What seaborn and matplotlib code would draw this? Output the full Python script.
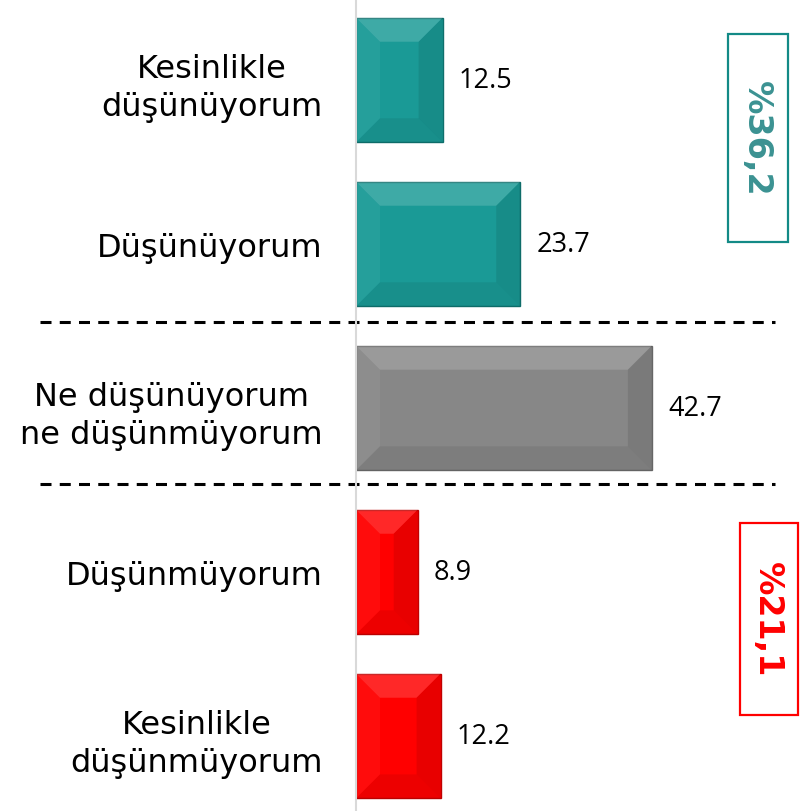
import matplotlib
matplotlib.use("Agg")
import matplotlib.pyplot as plt
import matplotlib.transforms as mtransforms
from matplotlib.patches import Polygon, Rectangle
import seaborn as sns

categories = ["Kesinlikle\ndüşünüyorum", "Düşünüyorum",
              "Ne düşünüyorum\nne düşünmüyorum", "Düşünmüyorum",
              "Kesinlikle\ndüşünmüyorum"]
values = [12.5, 23.7, 42.7, 8.9, 12.2]
bar_colors = ["#1a9a96", "#1a9a96", "#878787", "#ff0000", "#ff0000"]
edge_colors = ["#0f6f6c", "#0f6f6c", "#666666", "#c00000", "#c00000"]
summary_labels = ["%36,2", "%21,1"]
summary_colors = ["#3b9292", "#ff0000"]
summary_edges = ["#138a86", "#ff0000"]

W, H = 802, 812
fig = plt.figure(figsize=(W / 100, H / 100), dpi=100)
ax = fig.add_axes([356 / W, 0, 444 / W, 1])

sns.barplot(x=values, y=categories, hue=categories, palette=bar_colors,
            legend=False, orient="h", width=0.76, ax=ax, saturation=1)
ax.set_xlim(0, 64.07)
ax.set_ylim(4.457, -0.494)

for p, ec in zip(ax.patches, edge_colors):
    p.set_edgecolor(ec)
    p.set_linewidth(1.0)

# bevel look on every bar, taken from the bar extents
fig.canvas.draw()
b = 24
shades = [("white", 0.16), ("white", 0.05), ("black", 0.09), ("black", 0.07)]
for p in ax.patches:
    bb = p.get_window_extent()
    x0, x1, y0, y1 = bb.x0, bb.x1, bb.y0, bb.y1
    top = [(x0, y1), (x1, y1), (x1 - b, y1 - b), (x0 + b, y1 - b)]
    left = [(x0, y0), (x0, y1), (x0 + b, y1 - b), (x0 + b, y0 + b)]
    right = [(x1, y0), (x1, y1), (x1 - b, y1 - b), (x1 - b, y0 + b)]
    bottom = [(x0, y0), (x1, y0), (x1 - b, y0 + b), (x0 + b, y0 + b)]
    for pts, (c, a) in zip([top, left, right, bottom], shades):
        ax.add_patch(Polygon(pts, closed=True, facecolor=c, alpha=a,
                             edgecolor="none", transform=mtransforms.IdentityTransform()))

# value labels
for p, v in zip(ax.patches, values):
    ax.annotate(f"{v:.1f}", xy=(v, p.get_y() + p.get_height() / 2),
                xytext=(16, 0), textcoords="offset pixels",
                va="center", ha="left", fontsize=19.5, family="Open Sans")

for s in ["top", "right", "bottom"]:
    ax.spines[s].set_visible(False)
ax.spines["left"].set_color("#d9d9d9")
ax.spines["left"].set_linewidth(1.5)
ax.set_xticks([])
ax.set_xlabel("")
ax.set_ylabel("")
ax.tick_params(axis="y", length=0, pad=24)
for t in ax.get_yticklabels():
    t.set_fontsize(23)
    t.set_multialignment("center")
    t.set_linespacing(1.3)
    t.set_family("DejaVu Sans")

# dashed separators between groups
trans = mtransforms.blended_transform_factory(ax.transAxes, ax.transData)
for yv in [1.476, 2.463]:
    ax.plot([-0.712, 0.944], [yv, yv], transform=trans, clip_on=False,
            color="black", lw=2.2, ls=(0, (3.6, 2.7)), solid_capstyle="butt",
            dash_capstyle="butt")

# summary boxes
boxes = [(728, 35, 60, 208), (740, 524, 58, 192)]
for (bx, by, bw, bh), lab, tc, ec in zip(boxes, summary_labels, summary_colors, summary_edges):
    fig.patches.append(Rectangle((bx / W, 1 - (by + bh) / H), bw / W, bh / H,
                                 transform=fig.transFigure, fill=False,
                                 edgecolor=ec, lw=1.6))
    fig.text((bx + bw / 2 - 2) / W, 1 - (by + bh / 2) / H, lab, rotation=270,
             ha="center", va="center", fontsize=24, fontweight="bold",
             color=tc, family="DejaVu Sans")

fig.savefig("out.png", dpi=100)
